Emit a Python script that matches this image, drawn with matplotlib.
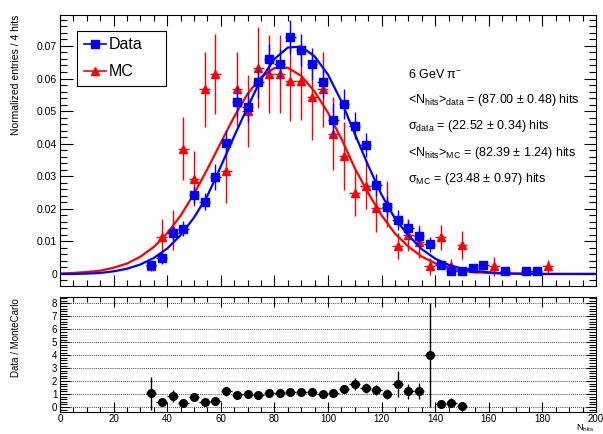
import numpy as np
import matplotlib
matplotlib.use('Agg')
import matplotlib.pyplot as plt
from matplotlib.lines import Line2D
from matplotlib.ticker import MultipleLocator, FuncFormatter

plt.rcParams['font.family'] = ['Liberation Sans', 'DejaVu Sans']
plt.rcParams['mathtext.fontset'] = 'custom'
plt.rcParams['mathtext.rm'] = 'Liberation Sans'
plt.rcParams['mathtext.it'] = 'Liberation Sans:italic'
plt.rcParams['mathtext.default'] = 'regular'

# data histogram (bin centres, normalized entries, errors)
data_x = [34, 38, 42, 46, 50, 54, 58, 62, 66, 70, 74, 78, 82, 86, 90, 94,
          98, 102, 106, 110, 114, 118, 122, 126, 130, 134, 138, 142, 146,
          150, 154, 158, 166, 174, 178]
data_y = [0.0026, 0.0050, 0.0125, 0.0139, 0.0242, 0.0222, 0.0299, 0.0403,
          0.0528, 0.0513, 0.0588, 0.0660, 0.0645, 0.0728, 0.0687, 0.0645,
          0.0588, 0.0472, 0.0521, 0.0455, 0.0396, 0.0273, 0.0207, 0.0166,
          0.0140, 0.0118, 0.0091, 0.0028, 0.0010, 0.0009, 0.0019, 0.0026,
          0.0010, 0.0010, 0.0010]
data_err = [0.0013, 0.0018, 0.0021, 0.0023, 0.0028, 0.0026, 0.0040, 0.0038,
            0.0046, 0.0045, 0.0048, 0.0046, 0.0046, 0.0053, 0.0049, 0.0050,
            0.0049, 0.0052, 0.0046, 0.0042, 0.0038, 0.0033, 0.0033, 0.0030,
            0.0026, 0.0023, 0.0023, 0.0012, 0.0008, 0.0008, 0.0011, 0.0013,
            0.0008, 0.0008, 0.0008]

# MC histogram
mc_x = [34, 38, 42, 46, 50, 54, 58, 62, 66, 70, 74, 78, 82, 86, 90, 94,
        98, 102, 106, 110, 114, 118, 122, 126, 130, 134, 138, 142, 146,
        150, 162, 182]
mc_y = [0.0024, 0.0112, 0.0135, 0.0385, 0.0293, 0.0567, 0.0614, 0.0316,
        0.0567, 0.0500, 0.0633, 0.0614, 0.0614, 0.0591, 0.0591, 0.0544,
        0.0567, 0.0430, 0.0363, 0.0249, 0.0271, 0.0201, 0.0215, 0.0086,
        0.0120, 0.0099, 0.0023, 0.0112, 0.0025, 0.0088, 0.0023, 0.0023]
mc_err = [0.0016, 0.0056, 0.0062, 0.0097, 0.0084, 0.0115, 0.0122, 0.0098,
          0.0114, 0.0110, 0.0124, 0.0120, 0.0120, 0.0120, 0.0118, 0.0133,
          0.0115, 0.0112, 0.0105, 0.0072, 0.0072, 0.0072, 0.0070, 0.0039,
          0.0050, 0.0050, 0.0026, 0.0039, 0.0020, 0.0043, 0.0030, 0.0020]

fit_x = np.arange(0, 205, 5)
fit_data = [0.0000, 0.0000, 0.0001, 0.0003, 0.0008, 0.0016, 0.0029, 0.0049,
            0.0078, 0.0119, 0.0173, 0.0240, 0.0330, 0.0423, 0.0512, 0.0598,
            0.0660, 0.0695, 0.0698, 0.0668, 0.0612, 0.0530, 0.0430, 0.0333,
            0.0243, 0.0170, 0.0118, 0.0076, 0.0047, 0.0028, 0.0016, 0.0009,
            0.0005, 0.0002, 0.0001, 0.0001, 0.0000, 0.0000, 0.0000, 0.0000,
            0.0000]
fit_mc = [0.0001, 0.0003, 0.0006, 0.0010, 0.0019, 0.0032, 0.0053, 0.0083,
          0.0125, 0.0179, 0.0246, 0.0322, 0.0403, 0.0483, 0.0553, 0.0604,
          0.0632, 0.0633, 0.0608, 0.0560, 0.0495, 0.0415, 0.0325, 0.0248,
          0.0180, 0.0124, 0.0084, 0.0053, 0.0033, 0.0018, 0.0010, 0.0005,
          0.0003, 0.0001, 0.0001, 0.0000, 0.0000, 0.0000, 0.0000, 0.0000,
          0.0000]

# ratio panel
ratio_x = [34, 38, 42, 46, 50, 54, 58, 62, 66, 70, 74, 78, 82, 86, 90, 94,
           98, 102, 106, 110, 114, 118, 122, 126, 130, 134, 138, 142, 146, 150]
ratio_y = [1.05, 0.42, 0.85, 0.33, 0.80, 0.38, 0.45, 1.20, 0.93, 0.97, 0.93,
           1.05, 1.05, 1.17, 1.12, 1.17, 0.99, 1.05, 1.38, 1.75, 1.45, 1.33,
           0.99, 1.75, 1.20, 1.23, 4.00, 0.20, 0.33, 0.07]
ratio_err = [1.25, 0.20, 0.45, 0.15, 0.30, 0.15, 0.20, 0.35, 0.20, 0.20, 0.20,
             0.20, 0.20, 0.25, 0.20, 0.20, 0.20, 0.20, 0.30, 0.45, 0.40, 0.40,
             0.40, 1.00, 0.55, 0.60, 4.00, 0.15, 0.35, 0.10]

info = ['6 GeV π$^{-}$',
        '<N$_{hits}$>$_{data}$ = (87.00 ± 0.48) hits',
        'σ$_{data}$ = (22.52 ± 0.34) hits',
        '<N$_{hits}$>$_{MC}$ = (82.39 ± 1.24) hits',
        'σ$_{MC}$ = (23.48 ± 0.97) hits']

blue = '#0000ff'
red = '#ff0000'

fig = plt.figure(figsize=(6.03, 4.34), dpi=100)
W, H = 603.0, 434.0
ax1 = fig.add_axes([60/W, 1-286/H, 536/W, 271/H])
ax2 = fig.add_axes([60/W, 1-412/H, 536/W, 115/H])


def root_ticks(ax, xmaj, xmin, ymaj, ymin, ylen=(9, 5), xlen=(8, 4), fs=7.5):
    ax.xaxis.set_major_locator(MultipleLocator(xmaj))
    ax.xaxis.set_minor_locator(MultipleLocator(xmin))
    ax.yaxis.set_major_locator(MultipleLocator(ymaj))
    ax.yaxis.set_minor_locator(MultipleLocator(ymin))
    ax.tick_params(axis='both', which='both', direction='in', top=True,
                   right=True, width=0.8, labelsize=fs, pad=2)
    ax.tick_params(axis='x', which='major', length=xlen[0])
    ax.tick_params(axis='x', which='minor', length=xlen[1])
    ax.tick_params(axis='y', which='major', length=ylen[0])
    ax.tick_params(axis='y', which='minor', length=ylen[1])
    for s in ax.spines.values():
        s.set_linewidth(0.8)


# top panel
ax1.plot(fit_x, fit_mc, color=red, lw=1.6, zorder=2)
ax1.errorbar(mc_x, mc_y, yerr=mc_err, xerr=2, fmt='^', color=red, ms=6,
             elinewidth=1, capsize=0, zorder=3)
ax1.plot(fit_x, fit_data, color=blue, lw=1.6, zorder=4)
ax1.errorbar(data_x, data_y, yerr=data_err, xerr=2, fmt='s', color=blue,
             ms=6.3, elinewidth=1, capsize=0, zorder=5)
ax1.set_xlim(0, 200)
ax1.set_ylim(-0.0037, 0.0795)
root_ticks(ax1, 20, 5, 0.01, 0.002)
ax1.tick_params(axis='x', labelbottom=False)
ax1.yaxis.set_major_formatter(FuncFormatter(
    lambda v, p: '0' if abs(v) < 1e-9 else f'{v:.2f}'))
fig.text(16/W, 1-15/H, 'Normalized entries / 4 hits', rotation=90,
         ha='center', va='top', fontsize=7.5)

handles = [Line2D([], [], color=blue, marker='s', ms=6, lw=1.2),
           Line2D([], [], color=red, marker='^', ms=6, lw=1.2)]
leg = ax1.legend(handles, ['Data', 'MC'], loc='upper left',
                 bbox_to_anchor=(17.3/536, 0, 88.7/536, (286-31)/271),
                 mode='expand', borderaxespad=0,
                 fancybox=False, edgecolor='black', framealpha=1,
                 fontsize=11.5, handlelength=1.4, handletextpad=0.2,
                 borderpad=0.4, labelspacing=0.75)
leg.get_frame().set_linewidth(0.8)

for i, line in enumerate(info):
    fig.text(408/W, 1-(74 + 26.2*i)/H, line, ha='left', va='center',
             fontsize=9)

# ratio panel
ax2.errorbar(ratio_x, ratio_y, yerr=ratio_err, xerr=2, fmt='o', color='black',
             ms=5.5, elinewidth=1, capsize=0, zorder=3)
ax2.set_xlim(0, 200)
ax2.set_ylim(-0.39, 8.5)
root_ticks(ax2, 20, 5, 1, 0.2, ylen=(7, 5), xlen=(7, 3.5), fs=7)
ax2.tick_params(axis='x', pad=1.5)
ax2.grid(axis='y', which='major', color='black', ls=(0, (1, 1.5)), lw=0.6)
fig.text(16/W, 1-298/H, 'Data / MonteCarlo', rotation=90, ha='center',
         va='top', fontsize=7)
fig.text(576/W, 0.5/H, 'N$_{hits}$', ha='left', va='bottom', fontsize=6.5)

fig.savefig('out.png', dpi=100)
